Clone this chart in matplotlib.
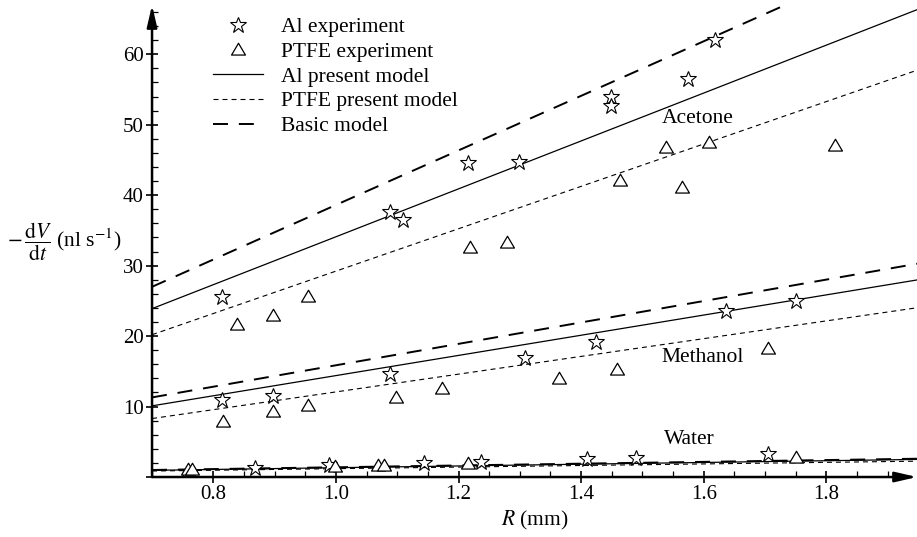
import matplotlib
matplotlib.use("Agg")
import matplotlib.pyplot as plt
from matplotlib.path import Path
from matplotlib.ticker import MultipleLocator

plt.rcParams["font.family"] = "Liberation Serif"
plt.rcParams["mathtext.fontset"] = "stix"

# ---- data ----
# model lines, evaluated at R = 0.7 and R = 1.95 mm
model_r = [0.7, 1.95]
acetone_al_model = [23.9, 66.4]
acetone_ptfe_model = [20.2, 57.8]
acetone_basic_model = [27.0, 75.4]
methanol_al_model = [10.1, 28.0]
methanol_ptfe_model = [8.3, 24.05]
methanol_basic_model = [11.3, 30.3]
water_al_model = [0.95, 2.5]
water_ptfe_model = [0.85, 2.25]
water_basic_model = [1.0, 2.6]

# experiments
acetone_al_r = [0.814, 1.088, 1.109, 1.215, 1.299, 1.449, 1.449, 1.575, 1.619]
acetone_al_v = [25.5, 37.6, 36.5, 44.6, 44.7, 53.9, 52.7, 56.5, 62.0]
acetone_ptfe_r = [0.838, 0.898, 0.954, 1.219, 1.279, 1.464, 1.539, 1.565, 1.609, 1.815]
acetone_ptfe_v = [21.7, 23.0, 25.7, 32.7, 33.3, 42.1, 46.9, 41.1, 47.6, 47.1]

methanol_al_r = [0.814, 0.898, 1.089, 1.309, 1.424, 1.637, 1.750]
methanol_al_v = [11.0, 11.5, 14.6, 16.9, 19.1, 23.6, 25.0]
methanol_ptfe_r = [0.815, 0.898, 0.954, 1.098, 1.173, 1.364, 1.459, 1.705]
methanol_ptfe_v = [7.9, 9.3, 10.2, 11.4, 12.7, 14.1, 15.3, 18.3]

water_al_r = [0.868, 0.988, 1.143, 1.236, 1.409, 1.489, 1.705]
water_al_v = [1.3, 1.7, 2.0, 2.2, 2.5, 2.7, 3.2]
water_ptfe_r = [0.758, 0.765, 0.999, 1.069, 1.079, 1.216, 1.750]
water_ptfe_v = [1.2, 1.2, 1.56, 1.7, 1.7, 2.0, 2.9]

liquid_labels = ["Acetone", "Methanol", "Water"]
liquid_label_pos = [(1.590, 50.9), (1.599, 16.9), (1.576, 5.3)]

fig = plt.figure(figsize=(9.17, 5.37), dpi=100)
ax = fig.add_axes([0.1658, 0.1117, 0.8342, 0.879])

solid_kw = dict(color="black", lw=0.9, linestyle="-")
ptfe_kw = dict(color="black", lw=0.8, dashes=(4.5, 3.6))
basic_kw = dict(color="black", lw=1.4, dashes=(7.7, 5.6))

al_line, = ax.plot(model_r, acetone_al_model, **solid_kw, label="Al present model")
ptfe_line, = ax.plot(model_r, acetone_ptfe_model, **ptfe_kw, label="PTFE present model")
basic_line, = ax.plot(model_r, acetone_basic_model, **basic_kw, label="Basic model")
ax.plot(model_r, methanol_al_model, **solid_kw)
ax.plot(model_r, methanol_ptfe_model, **ptfe_kw)
ax.plot(model_r, methanol_basic_model, **basic_kw)
ax.plot(model_r, water_al_model, **solid_kw)
ax.plot(model_r, water_ptfe_model, **ptfe_kw)
ax.plot(model_r, water_basic_model, **basic_kw)

# open equilateral-ish triangle, closed path
tri = Path([(-1.0, -0.8), (1.0, -0.8), (0.0, 0.9), (-1.0, -0.8)], closed=True)
star_kw = dict(marker="*", ms=12, mfc="white", mec="black", mew=0.8, linestyle="none")
tri_kw = dict(marker=tri, ms=10, mfc="white", mec="black", mew=0.9, linestyle="none")

al_pts, = ax.plot(acetone_al_r, acetone_al_v, **star_kw, label="Al experiment")
ptfe_pts, = ax.plot(acetone_ptfe_r, acetone_ptfe_v, **tri_kw, label="PTFE experiment")
ax.plot(methanol_al_r, methanol_al_v, **star_kw)
ax.plot(methanol_ptfe_r, methanol_ptfe_v, **tri_kw)
ax.plot(water_al_r, water_al_v, **star_kw)
ax.plot(water_ptfe_r, water_ptfe_v, **tri_kw)

for name, (lx, ly) in zip(liquid_labels, liquid_label_pos):
    ax.text(lx, ly, name, ha="center", va="center", fontsize=15.5)

ax.set_xlim(0.7, 1.948)
ax.set_ylim(0, 67)

for side in ("top", "right", "left", "bottom"):
    ax.spines[side].set_visible(False)

arrow = dict(arrowstyle="-|>,head_length=1.3,head_width=0.3", color="black",
             lw=1.8, mutation_scale=10, shrinkA=0, shrinkB=0)
ax.annotate("", xy=(1, 0), xytext=(0, 0), xycoords="axes fraction", arrowprops=arrow)
ax.annotate("", xy=(0, 1), xytext=(0, 0), xycoords="axes fraction", arrowprops=arrow)

ax.set_xticks([0.8, 1.0, 1.2, 1.4, 1.6, 1.8])
ax.set_xticklabels(["0.8", "1.0", "1.2", "1.4", "1.6", "1.8"])
ax.set_yticks([0, 10, 20, 30, 40, 50, 60])
ax.set_yticklabels(["", "10", "20", "30", "40", "50", "60"])
ax.xaxis.set_minor_locator(MultipleLocator(0.05))
ax.yaxis.set_minor_locator(MultipleLocator(2))
ax.tick_params(which="major", direction="inout", length=8, width=1.2,
               labelsize=15, pad=2)
ax.tick_params(which="minor", direction="in", length=4, width=0.9)

ax.set_xlabel(r"$R$ (mm)", fontsize=15.5, labelpad=3)
fig.text(7 / 917, 1 - 242 / 537,
         r"$-\,\dfrac{\mathrm{d}V}{\mathrm{d}t}$ (nl s$^{-1}$)",
         ha="left", va="center", fontsize=15.5)

ax.legend(handles=[al_pts, ptfe_pts, al_line, ptfe_line, basic_line],
          loc="upper left", bbox_to_anchor=(213 / 917, 1 - 17 / 537),
          bbox_transform=fig.transFigure, frameon=False, fontsize=15.5,
          handlelength=2.3, handletextpad=0.85, labelspacing=0.22,
          borderpad=0, borderaxespad=0)

fig.savefig("out.png", dpi=100)
